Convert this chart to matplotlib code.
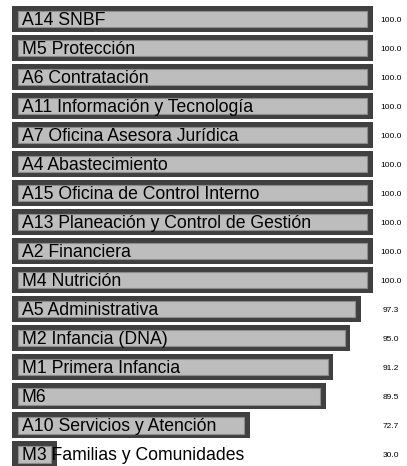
import matplotlib
matplotlib.use("Agg")
import matplotlib.pyplot as plt

labels = ["A14 SNBF", "M5 Protección", "A6 Contratación", "A11 Información y Tecnología",
          "A7 Oficina Asesora Jurídica", "A4 Abastecimiento", "A15 Oficina de Control Interno",
          "A13 Planeación y Control de Gestión", "A2 Financiera", "M4 Nutrición",
          "A5 Administrativa", "M2 Infancia (DNA)", "M1 Primera Infancia", "M6",
          "A10 Servicios y Atención", "M3 Familias y Comunidades"]
values = [100.0, 100.0, 100.0, 100.0, 100.0, 100.0, 100.0, 100.0, 100.0, 100.0,
          97.3, 95.0, 91.2, 89.5, 72.7, 30.0]

plt.rcParams['font.family'] = ['Liberation Sans', 'DejaVu Sans']

BASE = 20.0
PAD = 1.25
fig = plt.figure(figsize=(4.07, 4.66), dpi=100)
ax = fig.add_axes([0, 0, 1, 1])
ax.set_xlim(17.34, 107.55)
n = len(labels)
ax.set_ylim(15.41, -0.655)
ys = list(range(n))
ax.barh(ys, [v - BASE for v in values], left=BASE, height=0.9, color="#404040", linewidth=0)
ax.barh(ys, [v - BASE - 2 * PAD for v in values], left=BASE + PAD, height=0.58,
        color="#bdbdbd", edgecolor="#8c8c8c", linewidth=0.8)
for y, lab, v in zip(ys, labels, values):
    ax.text(BASE + 2.2, y + 0.05, lab, fontsize=12.7, ha="left", va="center", color="black")
    ax.text(104.0, y + 0.05, f"{v:.1f}", fontsize=6.0, ha="center", va="center", color="black")
ax.axis("off")
fig.savefig("out.png", dpi=100)
